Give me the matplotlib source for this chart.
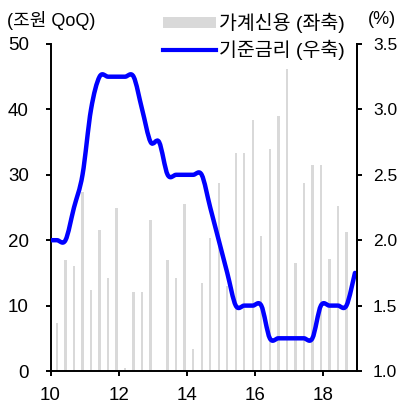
import numpy as np
import matplotlib
matplotlib.use("Agg")
import matplotlib.pyplot as plt
from matplotlib.path import Path
from matplotlib.patches import PathPatch, Patch
from matplotlib.lines import Line2D

plt.rcParams['font.family'] = ['Liberation Sans', 'Noto Sans CJK KR', 'DejaVu Sans']

# - DATA - #
# household credit, quarterly change (trn KRW), 2010Q1 .. 2018Q3
credit_years = [2010, 2011, 2012, 2013, 2014, 2015, 2016, 2017, 2018]
credit = [7.3, 16.9, 16.0, 27.4,
          12.4, 21.6, 14.2, 24.9,
          0.4, 12.1, 12.1, 23.1,
          0.2, 16.9, 14.2, 25.6,
          3.3, 13.5, 20.4, 28.8,
          13.0, 33.3, 33.3, 38.4,
          20.7, 33.9, 39.0, 46.2,
          16.5, 28.8, 31.5, 31.5,
          17.2, 25.3, 21.3]
# base rate (%), quarter end, 2009Q4 .. 2018Q4
rate = [2.0,
        2.0, 2.0, 2.25, 2.5,
        3.0, 3.25, 3.25, 3.25,
        3.25, 3.25, 3.0, 2.75,
        2.75, 2.5, 2.5, 2.5,
        2.5, 2.5, 2.25, 2.0,
        1.75, 1.5, 1.5, 1.5,
        1.5, 1.25, 1.25, 1.25,
        1.25, 1.25, 1.25, 1.5,
        1.5, 1.5, 1.5, 1.75]
xticks = [10, 12, 14, 16, 18]
yticks_left = [0, 10, 20, 30, 40, 50]
yticks_right = [1.0, 1.5, 2.0, 2.5, 3.0, 3.5]

# quarter positions on the "yy" axis
x_credit = 10.19 + 0.25 * np.arange(len(credit))
x_rate = 9.94 + 0.25 * np.arange(len(rate))


def smooth_path(x, y):
    # excel-like smoothed line: cubic bezier segments (catmull-rom tangents)
    pts = np.column_stack([x, y])
    verts = [pts[0]]
    codes = [Path.MOVETO]
    n = len(pts)
    for i in range(n - 1):
        p0 = pts[i - 1] if i > 0 else pts[i]
        p1 = pts[i]
        p2 = pts[i + 1]
        p3 = pts[i + 2] if i + 2 < n else pts[i + 1]
        verts += [p1 + (p2 - p0) / 6, p2 - (p3 - p1) / 6, p2]
        codes += [Path.CURVE4] * 3
    return Path(verts, codes)


fig = plt.figure(figsize=(4.01, 4.07), dpi=100)
ax = fig.add_axes([50.5 / 401, 1 - 371 / 407, 306.5 / 401, 327 / 407])
ax2 = ax.twinx()

ax.bar(x_credit, credit, width=0.07, color='#d9d9d9', zorder=1)
ax2.add_patch(PathPatch(smooth_path(x_rate, rate), facecolor='none',
                        edgecolor='#0000ff', lw=3.2, capstyle='round',
                        joinstyle='round'))

ax.set_xlim(10, 19)
ax.set_ylim(0, 50)
ax2.set_ylim(1.0, 3.5)
ax.set_xticks(xticks)
ax.set_yticks(yticks_left)
ax2.set_yticks(yticks_right)
ax2.set_yticklabels(["%.1f" % v for v in yticks_right])

for a in (ax, ax2):
    a.spines['top'].set_visible(False)
    for s in a.spines.values():
        s.set_linewidth(1.4)
    a.tick_params(direction='out', length=3.6, width=1.4, labelsize=13.5, pad=12)
ax2.spines['left'].set_visible(False)
ax2.spines['bottom'].set_visible(False)
ax.tick_params(axis='x', pad=8)
ax2.tick_params(axis='y', labelsize=12.5, pad=8)

fig.text(7 / 401, 1 - 20 / 407, "(조원 QoQ)", fontsize=13, va='center', ha='left')
fig.text(382 / 401, 1 - 20 / 407, "(%)", fontsize=13, va='center', ha='center')

handles = [Patch(facecolor='#d9d9d9', edgecolor='none'),
           Line2D([], [], color='#0000ff', lw=3)]
fig.legend(handles, ["가계신용 (좌축)", "기준금리 (우축)"], loc='upper left',
           bbox_to_anchor=(163 / 401, 1 - 13 / 407), frameon=False, fontsize=14,
           handlelength=2.7, handleheight=0.45, handletextpad=0.2,
           labelspacing=0.35, borderpad=0, borderaxespad=0)

fig.savefig('out.png', dpi=100)
